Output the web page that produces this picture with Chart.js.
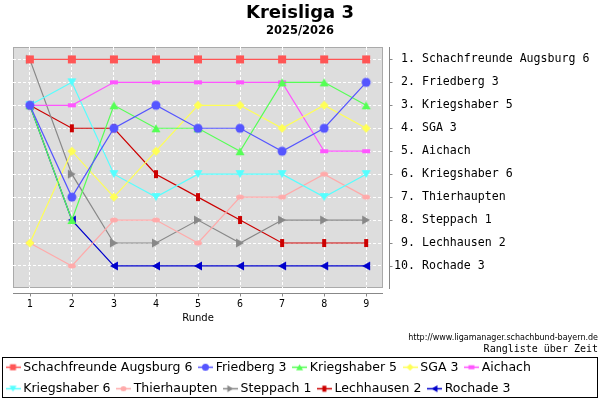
<!DOCTYPE html>
<html>
<head>
<meta charset="utf-8">
<title>Kreisliga 3</title>
<script src="https://cdn.jsdelivr.net/npm/chart.js@4.4.1/dist/chart.umd.min.js"></script>
<style>
    html, body { margin: 0; padding: 0; background: #fff; overflow: hidden; }
    canvas { display: block; }
</style>
</head>
<body>
<canvas id="rankChart" width="600" height="400"></canvas>
<script>
// Rounds and final standing
const rounds = [1, 2, 3, 4, 5, 6, 7, 8, 9];
const ranks = [1, 2, 3, 4, 5, 6, 7, 8, 9, 10];
const teams = ['Schachfreunde Augsburg 6', 'Friedberg 3', 'Kriegshaber 5', 'SGA 3', 'Aichach',
    'Kriegshaber 6', 'Thierhaupten', 'Steppach 1', 'Lechhausen 2', 'Rochade 3'];

// Rank after each round
const augsburg6    = [1, 1, 1, 1, 1, 1, 1, 1, 1];
const friedberg3   = [3, 7, 4, 3, 4, 4, 5, 4, 2];
const kriegshaber5 = [3, 8, 3, 4, 4, 5, 2, 2, 3];
const sga3         = [9, 5, 7, 5, 3, 3, 4, 3, 4];
const aichach      = [3, 3, 2, 2, 2, 2, 2, 5, 5];
const kriegshaber6 = [3, 2, 6, 7, 6, 6, 6, 7, 6];
const thierhaupten = [9, 10, 8, 8, 9, 7, 7, 6, 7];
const steppach1    = [1, 6, 9, 9, 8, 9, 8, 8, 8];
const lechhausen2  = [3, 4, 4, 6, 7, 8, 9, 9, 9];
const rochade3     = [3, 8, 10, 10, 10, 10, 10, 10, 10];

const series = [augsburg6, friedberg3, kriegshaber5, sga3, aichach,
    kriegshaber6, thierhaupten, steppach1, lechhausen2, rochade3];
const colors = ['#ff5555', '#5555ff', '#55ff55', '#ffff55', '#ff55ff',
    '#55ffff', '#ffaaaa', '#888888', '#cc0000', '#0000cc'];
const shapes = ['square', 'circle', 'triUp', 'diamond', 'hrect',
    'triDown', 'ellipse', 'triRight', 'vrect', 'triLeft'];

function drawMarker(ctx, shape, cx, cy, s) {
    const h = s / 2;
    ctx.beginPath();
    switch (shape) {
        case 'square': ctx.rect(cx - h, cy - h, s, s); break;
        case 'circle': ctx.arc(cx, cy, h + 0.5, 0, Math.PI * 2); break;
        case 'triUp': ctx.moveTo(cx, cy - h); ctx.lineTo(cx + h + 0.5, cy + h); ctx.lineTo(cx - h - 0.5, cy + h); break;
        case 'triDown': ctx.moveTo(cx, cy + h); ctx.lineTo(cx + h + 0.5, cy - h); ctx.lineTo(cx - h - 0.5, cy - h); break;
        case 'triRight': ctx.moveTo(cx + h, cy); ctx.lineTo(cx - h, cy - h - 0.5); ctx.lineTo(cx - h, cy + h + 0.5); break;
        case 'triLeft': ctx.moveTo(cx - h, cy); ctx.lineTo(cx + h, cy - h - 0.5); ctx.lineTo(cx + h, cy + h + 0.5); break;
        case 'diamond': ctx.moveTo(cx, cy - h - 0.5); ctx.lineTo(cx + h + 0.5, cy); ctx.lineTo(cx, cy + h + 0.5); ctx.lineTo(cx - h - 0.5, cy); break;
        case 'hrect': ctx.rect(cx - h, cy - 2, s, 4); break;
        case 'vrect': ctx.rect(cx - 2, cy - h, 4, s); break;
        case 'ellipse': ctx.ellipse(cx, cy, h, 2.5, 0, 0, Math.PI * 2); break;
    }
    ctx.closePath();
    ctx.fill();
}

function pointImage(i) {
    const c = document.createElement('canvas');
    c.width = 12; c.height = 12;
    const ctx = c.getContext('2d');
    ctx.fillStyle = colors[i];
    drawMarker(ctx, shapes[i], 6, 6, 8);
    return c;
}

function legendImage(i) {
    const c = document.createElement('canvas');
    c.width = 15; c.height = 9;
    const ctx = c.getContext('2d');
    ctx.strokeStyle = colors[i];
    ctx.lineWidth = 1.5;
    ctx.beginPath();
    ctx.moveTo(0, 4.5); ctx.lineTo(15, 4.5);
    ctx.stroke();
    ctx.fillStyle = colors[i];
    drawMarker(ctx, shapes[i], 7.5, 4.5, 6);
    return c;
}

const legendImgs = teams.map((t, i) => legendImage(i));

const datasets = teams.map((name, i) => ({
    label: name,
    data: rounds.map((r, j) => ({ x: r, y: series[i][j] })),
    borderColor: colors[i],
    backgroundColor: colors[i],
    borderWidth: 1.2,
    pointStyle: pointImage(i),
    pointRadius: 4,
    pointHoverRadius: 4,
    tension: 0,
    fill: false
}));

// plot background, detached axis lines, footer notes, legend frame
const framePlugin = {
    id: 'frame',
    beforeDraw(chart) {
        const { ctx, chartArea: a } = chart;
        ctx.save();
        ctx.fillStyle = '#dddddd';
        ctx.fillRect(a.left, a.top, a.right - a.left, a.bottom - a.top);
        ctx.strokeStyle = '#aaaaaa';
        ctx.lineWidth = 1;
        ctx.strokeRect(a.left + 0.5, a.top + 0.5, a.right - a.left - 1, a.bottom - a.top - 1);
        ctx.restore();
    },
    afterDraw(chart) {
        const { ctx, chartArea: a } = chart;
        const xs = chart.scales.x, ys = chart.scales.y;
        ctx.save();
        ctx.strokeStyle = '#888888';
        ctx.lineWidth = 1;
        ctx.beginPath();
        const axY = Math.round(a.bottom) + 5.5;
        ctx.moveTo(a.left, axY); ctx.lineTo(a.right, axY);
        rounds.forEach(r => {
            const px = Math.round(xs.getPixelForValue(r)) + 0.5;
            ctx.moveTo(px, axY); ctx.lineTo(px, axY + 3);
        });
        const axX = Math.round(a.right) + 6.5;
        ctx.moveTo(axX, a.top); ctx.lineTo(axX, a.bottom + 1);
        ranks.forEach(r => {
            const py = Math.round(ys.getPixelForValue(r)) + 0.5;
            ctx.moveTo(axX, py); ctx.lineTo(axX + 3, py);
        });
        ctx.stroke();

        ctx.fillStyle = '#000';
        ctx.textAlign = 'right';
        ctx.textBaseline = 'middle';
        ctx.font = '8px "DejaVu Sans"';
        ctx.fillText('http://www.ligamanager.schachbund-bayern.de', 598, 338);
        ctx.font = '10px "DejaVu Sans Mono"';
        ctx.fillText('Rangliste über Zeit', 598, 349.5);

        ctx.strokeStyle = '#000';
        ctx.strokeRect(2.5, 357.5, 595, 40);
        ctx.restore();
    }
};

const baseLabels = Chart.defaults.plugins.legend.labels.generateLabels;

new Chart(document.getElementById('rankChart'), {
    type: 'line',
    data: { datasets },
    plugins: [framePlugin],
    options: {
        responsive: false,
        animation: false,
        layout: { padding: { top: 0, left: 0, right: 0, bottom: -5 } },
        plugins: {
            tooltip: { enabled: false },
            title: {
                display: true,
                text: 'Kreisliga 3',
                color: '#000',
                font: { family: 'DejaVu Sans', size: 18, weight: 'bold', lineHeight: 1.15 },
                padding: { top: 3, bottom: 0 }
            },
            subtitle: {
                display: true,
                text: '2025/2026',
                color: '#000',
                font: { family: 'DejaVu Sans', size: 11.5, weight: 'bold', lineHeight: 1.2 },
                padding: { top: 0, bottom: 9.5 }
            },
            legend: {
                position: 'bottom',
                align: 'start',
                labels: {
                    usePointStyle: true,
                    pointStyleWidth: 8,
                    padding: 9,
                    color: '#000',
                    font: { family: 'DejaVu Sans', size: 12.5 },
                    generateLabels: chart => baseLabels(chart).map((item, i) => ({ ...item, pointStyle: legendImgs[i] }))
                }
            }
        },
        scales: {
            x: {
                type: 'linear',
                min: 0.6,
                max: 9.4,
                afterBuildTicks: s => { s.ticks = rounds.map(v => ({ value: v })); },
                afterFit: s => { s.height = 64; },
                grid: { color: '#ffffff', drawTicks: false },
                border: { display: false, dash: [3, 2] },
                ticks: {
                    padding: 10,
                    color: '#000',
                    font: { family: 'DejaVu Sans Mono', size: 10 }
                },
                title: {
                    display: true,
                    text: 'Runde',
                    color: '#000',
                    font: { family: 'DejaVu Sans', size: 10 },
                    padding: { top: 0, bottom: 28 }
                }
            },
            y: {
                type: 'linear',
                position: 'right',
                reverse: true,
                min: 0.46,
                max: 10.96,
                afterBuildTicks: s => { s.ticks = ranks.map(v => ({ value: v })); },
                afterFit: s => { s.width = 217; },
                grid: { color: '#ffffff', drawTicks: false },
                border: { display: false, dash: [3, 2] },
                ticks: {
                    padding: 11,
                    color: '#000',
                    font: { family: 'DejaVu Sans Mono', size: 11.6 },
                    callback: v => String(v).padStart(2, ' ') + '. ' + teams[v - 1]
                }
            },
            yl: {
                type: 'linear',
                position: 'left',
                display: true,
                min: 0,
                max: 1,
                afterFit: s => { s.width = 13; },
                grid: { display: false },
                border: { display: false },
                ticks: { display: false }
            }
        }
    }
});
</script>
</body>
</html>
